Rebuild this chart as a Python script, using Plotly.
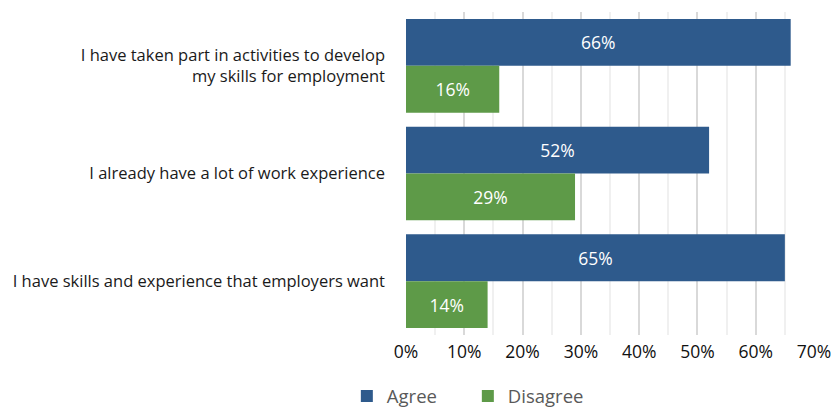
import plotly.graph_objects as go

categories = [
    "I have taken part in activities to develop<br>my skills for employment",
    "I already have a lot of work experience",
    "I have skills and experience that employers want",
]
agree = [66, 52, 65]
disagree = [16, 29, 14]
x_ticks = [0, 10, 20, 30, 40, 50, 60, 70]
x_tick_labels = [f"{v}%" for v in x_ticks]

FONT = "Open Sans"
BLUE = "#2E5A8C"
GREEN = "#5E9A48"

fig = go.Figure()
fig.add_trace(go.Bar(
    name="Agree", y=categories, x=agree, orientation="h",
    marker=dict(color=BLUE, line=dict(width=0)),
    texttemplate="%{x}%", textposition="inside", insidetextanchor="middle",
    textfont=dict(color="white", size=17.5, family=FONT),
    hoverinfo="skip",
))
fig.add_trace(go.Bar(
    name="Disagree", y=categories, x=disagree, orientation="h",
    marker=dict(color=GREEN, line=dict(width=0)),
    texttemplate="%{x}%", textposition="inside", insidetextanchor="middle",
    textfont=dict(color="white", size=17.5, family=FONT),
    hoverinfo="skip",
))

fig.update_layout(
    width=837, height=408,
    margin=dict(l=406, r=23, t=12, b=73, autoexpand=False),
    paper_bgcolor="white", plot_bgcolor="white",
    barmode="group", bargap=0.13, bargroupgap=0,
    font=dict(family=FONT, size=16, color="#1a1a1a"),
    showlegend=True,
    legend=dict(
        orientation="h", x=-0.145, xanchor="left",
        yref="container", y=0.028, yanchor="middle",
        font=dict(size=18.5, color="#595959", family=FONT),
        traceorder="normal", itemwidth=30, entrywidth=76,
    ),
    uniformtext=dict(mode="show", minsize=10),
)
fig.update_xaxes(
    range=[0, 70], tickvals=x_ticks, ticktext=x_tick_labels,
    showgrid=True, gridcolor="#d9d9d9", gridwidth=2,
    minor=dict(dtick=5, showgrid=True, gridcolor="#f0f0f0", gridwidth=2),
    zeroline=False, showline=False, ticks="", automargin=False,
    ticklabelstandoff=4,
    tickfont=dict(size=17.5, color="#111111", family=FONT),
    fixedrange=True,
)
fig.update_yaxes(
    autorange="reversed", showgrid=False, zeroline=False, showline=False,
    ticks="", ticklabelstandoff=20, automargin=False,
    tickfont=dict(size=16.5, color="#1a1a1a", family=FONT),
    fixedrange=True,
)

fig.write_html("out.html")
